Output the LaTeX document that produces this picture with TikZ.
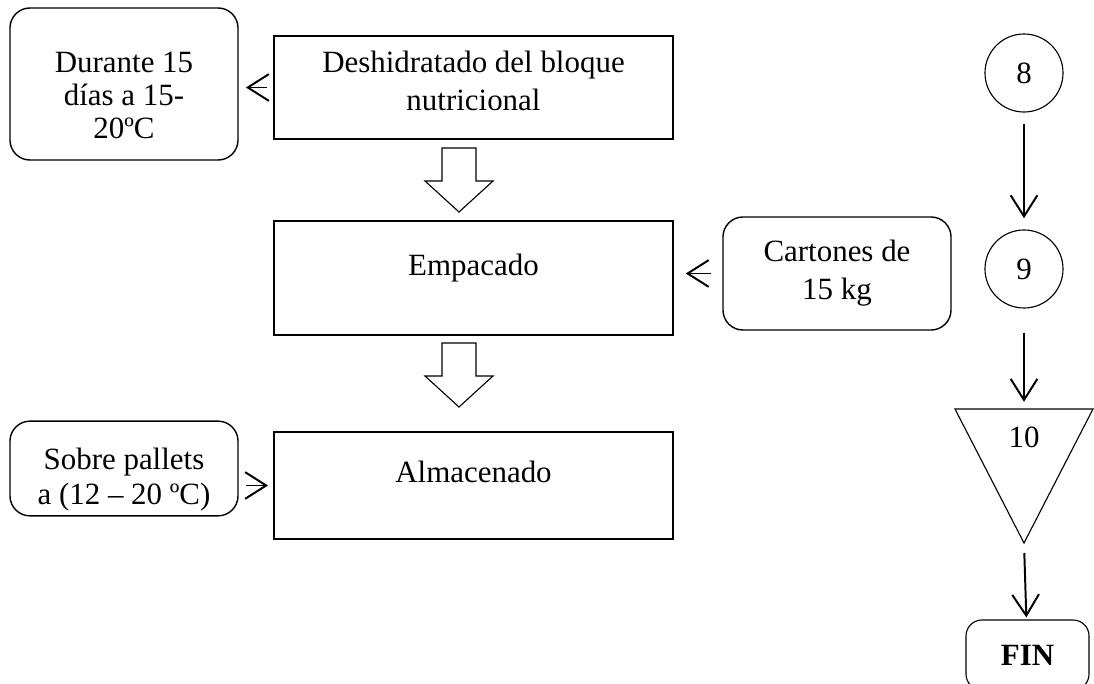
\documentclass[tikz,border=0pt]{standalone}
\usepackage{fontspec}
\setmainfont{Liberation Serif}
\usetikzlibrary{arrows.meta,calc}

% struts to move the text inside the boxes
\newcommand{\subir}[1]{\rule[-#1]{0pt}{0pt}}
\newcommand{\bajar}[1]{\rule{0pt}{#1}}

\tikzset{
  proceso/.style={draw, line width=1pt, align=center, minimum width=9.975cm},
  nota/.style={draw, line width=1pt, rounded corners=0.5cm, align=center, minimum width=5.7cm},
  circulo/.style={draw, circle, line width=0.8pt, minimum size=1.95cm, inner sep=0pt},
  flecha/.style={line width=1.4pt, -{Straight Barb[length=15pt,width=19pt]}},
  hueca/.style={draw, line width=0.8pt, fill=white}
}

\begin{document}
\begin{tikzpicture}[x=0.025cm, y=-0.025cm, font=\fontsize{22}{26}\selectfont]
    \useasboundingbox (0,0) rectangle (1094,684);

    % Process boxes
    \node[proceso, minimum height=2.575cm] (desh) at (473.5,87.5) {Deshidratado del bloque\\[1pt]nutricional\subir{10pt}};
    \node[proceso, minimum height=2.85cm] (emp) at (473.5,278) {Empacado\subir{19pt}};
    \node[proceso, minimum height=2.675cm] (alm) at (473.5,485.5) {Almacenado\subir{19pt}};

    % Side notes
    \node[nota, minimum height=3.8cm] (dur) at (124,84) {\bajar{31pt}Durante 15\\[-2.5pt]días a 15-\\[-2.5pt]20ºC};
    \node[nota, minimum height=2.825cm] (cart) at (837,273.5) {Cartones de\\[1pt]15 kg};
    \node[nota, minimum height=2.175cm] (sob) at (124,468.5) {\bajar{31pt}Sobre pallets\\[-1pt]a (12 – 20 ºC)};

    % Hollow arrows between the boxes
    \foreach \y in {148, 343} {
        \draw[hueca] (442,\y) -- (476,\y) -- (476,\y+33) -- (493,\y+33) -- (459,\y+64)
            -- (425,\y+33) -- (442,\y+33) -- cycle;
    }

    % Arrows to the notes
    \draw[flecha, shorten <=0.15cm, shorten >=0.18cm] (desh.west) -- (desh.west -| dur.east);
    \draw[flecha, shorten <=0.275cm, shorten >=0.3cm] (cart.west) -- (cart.west -| emp.east);
    \draw[flecha, shorten <=0.18cm, shorten >=0.13cm] (alm.west -| sob.east) -- (alm.west);

    % Right column
    \node[circulo] (c8) at (1024,73) {8};
    \node[circulo] (c9) at (1024,269) {9};
    \coordinate (t10) at (1024,409);
    \coordinate (t10v) at (1024,543);
    \draw[line width=0.8pt] (955,409) -- (1093,409) -- (t10v) -- cycle;
    \node (n10) at (1024,437) {10};
    \node[draw, line width=0.8pt, rounded corners=0.4cm, minimum width=3.075cm, minimum height=1.75cm,
          font=\fontsize{22}{26}\selectfont\bfseries] (fin) at (1027.5,655) {FIN};

    \draw[flecha, shorten <=0.28cm, shorten >=0.28cm] (c8) -- (c9);
    \draw[flecha, shorten <=0.6cm, shorten >=0.18cm] (c9) -- (t10);
    \draw[flecha, shorten <=0.25cm, shorten >=0.05cm] (t10v) -- (fin);
\end{tikzpicture}
\end{document}
